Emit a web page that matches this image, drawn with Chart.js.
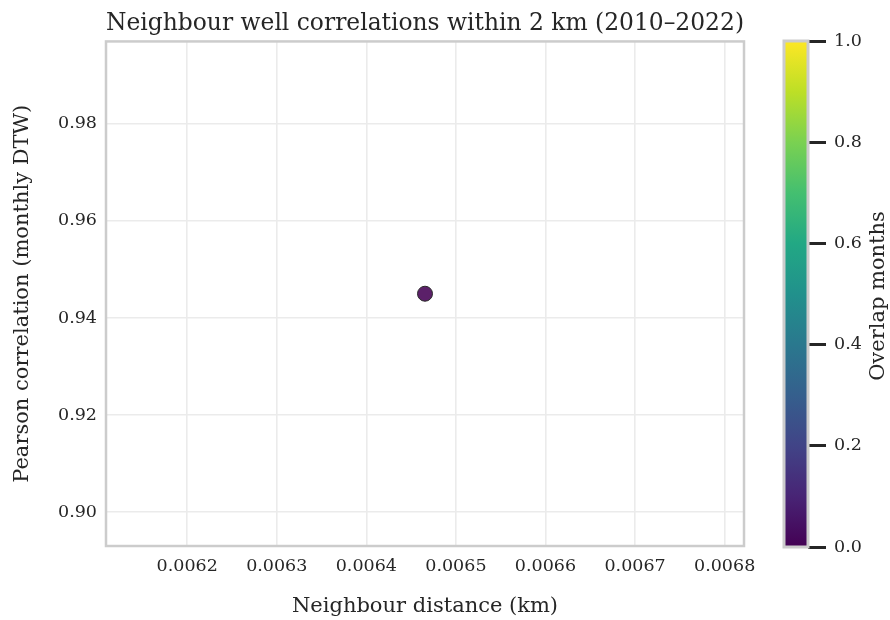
<!DOCTYPE html>
<html>
<head>
<meta charset="utf-8">
<script src="https://cdn.jsdelivr.net/npm/chart.js@4/dist/chart.umd.min.js"></script>
<style>
  html, body { margin: 0; padding: 0; background: #ffffff; }
  #wrap { position: relative; width: 890px; height: 620px; }
  #wrap canvas { position: absolute; left: 0; top: 0; }
  #cbar { pointer-events: none; }
</style>
</head>
<body>
<div id="wrap">
  <canvas id="main" width="890" height="620"></canvas>
  <canvas id="cbar" width="890" height="620"></canvas>
</div>
<script>
// Neighbouring well pairs: separation distance, correlation of monthly depth-to-water, overlap
const distanceKm = [0.0064655];
const pearsonR = [0.945];
const overlapMonths = [0];

// Axis ticks
const xTickValues = [0.0062, 0.0063, 0.0064, 0.0065, 0.0066, 0.0067, 0.0068];
const yTickValues = [0.90, 0.92, 0.94, 0.96, 0.98];
const cbarTickValues = [0.0, 0.2, 0.4, 0.6, 0.8, 1.0];

// Axis limits
const xLimits = [0.0061094, 0.0068216];
const yLimits = [0.893025, 0.996975];
const cbarLimits = [0, 1];

// Viridis colour ramp
const viridis = ['#440154', '#482475', '#414487', '#355f8d', '#2a788e', '#21918c',
                 '#22a884', '#44bf70', '#7ad151', '#bddf26', '#fde725'];

const FONT = "'DejaVu Serif', serif";
const INK = '#262626';
const SPINE = '#cccccc';
const GRID = '#ebebeb';
const TICK_SIZE = 17.5;
const LABEL_SIZE = 21;

function viridisAt(t) {
  t = Math.min(1, Math.max(0, t));
  const pos = t * (viridis.length - 1);
  const i = Math.min(viridis.length - 2, Math.floor(pos));
  const f = pos - i;
  const a = viridis[i], b = viridis[i + 1];
  const c = k => Math.round(parseInt(a.substr(k, 2), 16) * (1 - f) + parseInt(b.substr(k, 2), 16) * f);
  return `rgba(${c(1)},${c(3)},${c(5)},0.88)`;
}

const points = distanceKm.map((d, i) => ({ x: d, y: pearsonR[i] }));
const pointColors = overlapMonths.map(m => viridisAt((m - cbarLimits[0]) / (cbarLimits[1] - cbarLimits[0])));

// Frame around the plotting area
const spinesPlugin = {
  id: 'spines',
  beforeDatasetsDraw(chart) {
    const { ctx, chartArea: a } = chart;
    ctx.save();
    ctx.strokeStyle = SPINE;
    ctx.lineWidth = 2.5;
    ctx.strokeRect(a.left, a.top, a.right - a.left, a.bottom - a.top);
    ctx.restore();
  }
};

new Chart(document.getElementById('main'), {
  type: 'scatter',
  data: {
    datasets: [{
      data: points,
      backgroundColor: pointColors,
      borderColor: '#2b2b2b',
      borderWidth: 1,
      pointRadius: 7.5,
      pointHoverRadius: 7.5
    }]
  },
  options: {
    responsive: false,
    animation: false,
    events: [],
    layout: { padding: { left: 0, right: 146, top: 0, bottom: 0 } },
    plugins: {
      legend: { display: false },
      tooltip: { enabled: false },
      title: {
        display: true,
        fullSize: false,
        text: 'Neighbour well correlations within 2 km (2010–2022)',
        color: INK,
        font: { family: FONT, size: 23.7, weight: 'normal', lineHeight: 1.2 },
        padding: { top: 10, bottom: 3 }
      }
    },
    scales: {
      x: {
        type: 'linear',
        min: xLimits[0],
        max: xLimits[1],
        afterBuildTicks: axis => { axis.ticks = xTickValues.map(v => ({ value: v })); },
        afterFit: axis => { axis.height = 74; },
        grid: { color: GRID, lineWidth: 1.6, drawTicks: false },
        border: { display: false },
        ticks: {
          color: INK,
          padding: 10,
          maxRotation: 0,
          font: { family: FONT, size: TICK_SIZE },
          callback: v => v.toFixed(4)
        },
        title: {
          display: true,
          text: 'Neighbour distance (km)',
          color: INK,
          font: { family: FONT, size: LABEL_SIZE, lineHeight: 1.2 },
          padding: { top: 0, bottom: 1 }
        }
      },
      y: {
        type: 'linear',
        min: yLimits[0],
        max: yLimits[1],
        afterBuildTicks: axis => { axis.ticks = yTickValues.map(v => ({ value: v })); },
        afterFit: axis => { axis.width = 106; },
        grid: { color: GRID, lineWidth: 1.6, drawTicks: false },
        border: { display: false },
        ticks: {
          color: INK,
          padding: 9,
          font: { family: FONT, size: TICK_SIZE },
          callback: v => v.toFixed(2)
        },
        title: {
          display: true,
          text: 'Pearson correlation (monthly DTW)',
          color: INK,
          font: { family: FONT, size: LABEL_SIZE, lineHeight: 1.2 },
          padding: { top: 10, bottom: 0 }
        }
      }
    }
  },
  plugins: [spinesPlugin]
});

// Colour bar: gradient, frame and label drawn against its own scale
const colorbarPlugin = {
  id: 'colorbar',
  beforeDatasetsDraw(chart) {
    const { ctx, chartArea: a } = chart;
    const y = chart.scales.y;
    const g = ctx.createLinearGradient(0, y.getPixelForValue(cbarLimits[0]), 0, y.getPixelForValue(cbarLimits[1]));
    viridis.forEach((c, i) => g.addColorStop(i / (viridis.length - 1), c));
    ctx.save();
    ctx.fillStyle = g;
    ctx.fillRect(a.left, a.top, a.right - a.left, a.bottom - a.top);
    ctx.strokeStyle = SPINE;
    ctx.lineWidth = 3;
    ctx.strokeRect(a.left, a.top, a.right - a.left, a.bottom - a.top);
    ctx.restore();
  },
  afterDraw(chart) {
    const { ctx, chartArea: a } = chart;
    ctx.save();
    ctx.translate(879, (a.top + a.bottom) / 2 + 2);
    ctx.rotate(-Math.PI / 2);
    ctx.fillStyle = INK;
    ctx.font = `${LABEL_SIZE}px ${FONT}`;
    ctx.textAlign = 'center';
    ctx.textBaseline = 'middle';
    ctx.fillText('Overlap months', 0, 0);
    ctx.restore();
  }
};

new Chart(document.getElementById('cbar'), {
  type: 'scatter',
  data: { datasets: [{ data: [] }] },
  options: {
    responsive: false,
    animation: false,
    events: [],
    layout: { padding: { left: 784, right: 22, top: 41, bottom: 73 } },
    plugins: { legend: { display: false }, tooltip: { enabled: false } },
    scales: {
      x: { display: false, min: 0, max: 1 },
      y: {
        position: 'right',
        min: cbarLimits[0],
        max: cbarLimits[1],
        afterBuildTicks: axis => { axis.ticks = cbarTickValues.map(v => ({ value: v })); },
        afterFit: axis => { axis.width = 60; },
        grid: { drawOnChartArea: false, drawTicks: true, tickLength: 18, tickColor: INK, tickWidth: 3 },
        border: { display: false },
        ticks: {
          color: INK,
          padding: 8,
          font: { family: FONT, size: TICK_SIZE },
          callback: v => v.toFixed(1)
        }
      }
    }
  },
  plugins: [colorbarPlugin]
});
</script>
</body>
</html>
